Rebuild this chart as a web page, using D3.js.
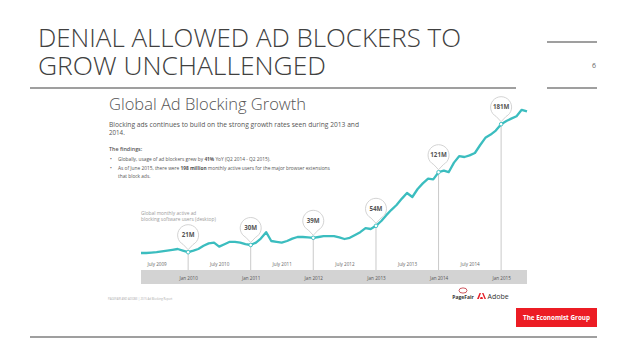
<!DOCTYPE html>
<html lang="en">
<head>
<meta charset="UTF-8">
<title>Denial allowed ad blockers to grow unchallenged</title>
<script src="https://d3js.org/d3.v7.min.js"></script>
<style>
  body { margin: 0; background: #fff; }
  svg { display: block; }
</style>
</head>
<body>
<div id="chart"></div>
<script>
    // Monthly active ad blocking users (millions), Apr 2009 .. Jun 2015
    const firstMonth = "2009-04";
    const users = [
        20, 20, 20.5, 21, 22, 23, 24, 25, 23,
        21, 23, 25, 29, 32, 33, 28, 31, 34, 34, 33, 31,
        30, 33, 38, 46, 35, 34, 33, 35, 38, 40, 40, 39.5,
        39, 40, 41, 41, 41, 39.5, 37.5, 39, 42.5, 46, 51, 50,
        54, 60, 67, 74, 80, 88, 95, 90, 100, 107, 113, 112,
        121, 123, 121, 133, 141, 140, 142, 145, 155, 164, 168, 173,
        181, 185, 188, 191, 199, 197
    ];

    // callouts
    const calloutDates = ["2010-01", "2011-01", "2012-01", "2013-01", "2014-01", "2015-01"];
    const calloutLabels = ["21M", "30M", "39M", "54M", "121M", "181M"];

    // axis ticks
    const janTicks = ["2010-01", "2011-01", "2012-01", "2013-01", "2014-01", "2015-01"];
    const julyTicks = ["2009-07", "2010-07", "2011-07", "2012-07", "2013-07", "2014-07"];

    const parseMonth = d3.timeParse("%Y-%m");
    const start = parseMonth(firstMonth);
    const series = users.map((v, i) => ({ date: d3.timeMonth.offset(start, i), value: v }));
    const end = series[series.length - 1].date;

    const width = 638, height = 359;
    const svg = d3.select("#chart").append("svg")
        .attr("width", width)
        .attr("height", height);

    const dark = "#404040";
    const teal = "#3bbdbf";

    // ---- slide title ----
    const title = svg.append("g")
        .style("font-family", "'Open Sans', sans-serif")
        .style("font-weight", 300)
        .attr("fill", dark);
    title.append("text").attr("x", 38).attr("y", 47)
        .attr("font-size", 26).attr("textLength", 423).attr("lengthAdjust", "spacingAndGlyphs")
        .text("DENIAL ALLOWED AD BLOCKERS TO");
    title.append("text").attr("x", 38).attr("y", 75)
        .attr("font-size", 26).attr("textLength", 288).attr("lengthAdjust", "spacingAndGlyphs")
        .text("GROW UNCHALLENGED");

    svg.append("line").attr("x1", 30).attr("x2", 516).attr("y1", 88).attr("y2", 88)
        .attr("stroke", dark).attr("stroke-width", 1.2);
    svg.append("line").attr("x1", 547).attr("x2", 597).attr("y1", 42).attr("y2", 42)
        .attr("stroke", dark).attr("stroke-width", 1.2);
    svg.append("line").attr("x1", 547).attr("x2", 597).attr("y1", 88).attr("y2", 88)
        .attr("stroke", dark).attr("stroke-width", 1.2);
    svg.append("text").attr("x", 596).attr("y", 68).attr("text-anchor", "end")
        .attr("font-size", 7).attr("fill", "#666")
        .style("font-family", "'Open Sans', sans-serif")
        .text("6");

    // bottom rule + Economist Group box
    svg.append("line").attr("x1", 30).attr("x2", 597).attr("y1", 337).attr("y2", 337)
        .attr("stroke", dark).attr("stroke-width", 1.2);
    svg.append("rect").attr("x", 516).attr("y", 308).attr("width", 81).attr("height", 19)
        .attr("fill", "#ec1c24");
    svg.append("text").attr("x", 556.5).attr("y", 320).attr("text-anchor", "middle")
        .attr("font-size", 6.3).attr("font-weight", "bold").attr("fill", "#fff")
        .style("font-family", "'Open Sans', sans-serif")
        .text("The Economist Group");

    // ---- embedded report page ----
    const page = svg.append("g").style("font-family", "'Open Sans', sans-serif");

    page.append("text").attr("x", 109).attr("y", 110)
        .attr("font-size", 16).attr("font-weight", 300).attr("fill", "#555")
        .attr("textLength", 197).attr("lengthAdjust", "spacingAndGlyphs")
        .text("Global Ad Blocking Growth");

    page.append("text").attr("x", 109).attr("y", 127)
        .attr("font-size", 6.2).attr("fill", "#555")
        .attr("textLength", 250).attr("lengthAdjust", "spacingAndGlyphs")
        .text("Blocking ads continues to build on the strong growth rates seen during 2013 and");
    page.append("text").attr("x", 109).attr("y", 135)
        .attr("font-size", 6.2).attr("fill", "#555")
        .text("2014.");

    page.append("text").attr("x", 109).attr("y", 151)
        .attr("font-size", 5.4).attr("font-weight", 600).attr("fill", "#555")
        .text("The findings:");

    const bullet1 = page.append("text").attr("y", 161).attr("font-size", 4.8).attr("fill", "#555");
    bullet1.append("tspan").attr("x", 110).text("•");
    bullet1.append("tspan").attr("x", 118).text("Globally, usage of ad blockers grew by ");
    bullet1.append("tspan").attr("font-weight", "bold").text("41%");
    bullet1.append("tspan").text(" YoY (Q2 2014 - Q2 2015).");

    const bullet2 = page.append("text").attr("y", 170).attr("font-size", 4.8).attr("fill", "#555");
    bullet2.append("tspan").attr("x", 110).text("•");
    bullet2.append("tspan").attr("x", 118).text("As of June 2015, there were ");
    bullet2.append("tspan").attr("font-weight", "bold").text("198 million");
    bullet2.append("tspan").text(" monthly active users for the major browser extensions");
    page.append("text").attr("x", 118).attr("y", 178).attr("font-size", 4.8).attr("fill", "#555")
        .text("that block ads.");

    // ---- chart ----
    const x = d3.scaleTime().domain([start, end]).range([141, 527]);
    const y = d3.scaleLinear().domain([0, 200]).range([269, 109]);

    page.append("text").attr("x", 141).attr("y", 215)
        .attr("font-size", 4.8).attr("fill", "#9a9a9a")
        .text("Global monthly active ad");
    page.append("text").attr("x", 141).attr("y", 221)
        .attr("font-size", 4.8).attr("fill", "#9a9a9a")
        .text("blocking software users (desktop)");

    // grey band behind Jan labels
    page.append("rect")
        .attr("x", x(start)).attr("width", x(end) - x(start))
        .attr("y", 270).attr("height", 14)
        .attr("fill", "#d3d3d3");

    const byMonth = new Map(series.map(d => [+d.date, d.value]));
    const callouts = calloutDates.map((s, i) => {
        const date = parseMonth(s);
        return { date: date, value: byMonth.get(+date), label: calloutLabels[i] };
    });

    // callout drop lines
    page.selectAll(".drop").data(callouts).join("line")
        .attr("class", "drop")
        .attr("x1", d => x(d.date)).attr("x2", d => x(d.date))
        .attr("y1", d => y(d.value)).attr("y2", 270)
        .attr("stroke", "#c4c4c4").attr("stroke-width", 0.9);

    // July labels (above band)
    const julyAxis = d3.axisBottom(x)
        .tickValues(julyTicks.map(parseMonth))
        .tickFormat(d3.timeFormat("July %Y"))
        .tickSize(0);
    page.append("g").attr("class", "july-axis")
        .attr("transform", "translate(0,260)")
        .call(julyAxis)
        .call(g => g.select(".domain").remove())
        .call(g => g.selectAll("text").attr("font-size", 4.6).attr("fill", "#666")
            .style("font-family", "'Open Sans', sans-serif"));

    // Jan labels (inside band)
    const janAxis = d3.axisBottom(x)
        .tickValues(janTicks.map(parseMonth))
        .tickFormat(d3.timeFormat("Jan %Y"))
        .tickSize(0);
    page.append("g").attr("class", "jan-axis")
        .attr("transform", "translate(0,274)")
        .call(janAxis)
        .call(g => g.select(".domain").remove())
        .call(g => g.selectAll("text").attr("font-size", 4.6).attr("fill", "#555")
            .style("font-family", "'Open Sans', sans-serif"));

    // the growth line
    const line = d3.line()
        .x(d => x(d.date))
        .y(d => y(d.value))
        .curve(d3.curveLinear);
    page.append("path").datum(series)
        .attr("d", line)
        .attr("fill", "none")
        .attr("stroke", teal)
        .attr("stroke-width", 2.3)
        .attr("stroke-linejoin", "round");

    // markers
    page.selectAll(".marker").data(callouts).join("circle")
        .attr("class", "marker")
        .attr("cx", d => x(d.date)).attr("cy", d => y(d.value))
        .attr("r", 1.8)
        .attr("fill", "#fff").attr("stroke", teal).attr("stroke-width", 0.9);

    // pin-shaped bubbles
    const r = 10.5, a = 28 * Math.PI / 180;
    function pin(cx, cy) {
        const tipY = cy + r + 4;
        const sx = r * Math.sin(a), sy = r * Math.cos(a);
        return `M${cx},${tipY} L${cx + sx},${cy + sy} A${r},${r} 0 1 0 ${cx - sx},${cy + sy} Z`;
    }
    const bubbles = page.selectAll(".bubble").data(callouts).join("g").attr("class", "bubble");
    bubbles.append("path")
        .attr("d", d => pin(x(d.date), y(d.value) - 17))
        .attr("fill", "#fff").attr("stroke", "#c8c8c8").attr("stroke-width", 0.8);
    bubbles.append("text")
        .attr("x", d => x(d.date)).attr("y", d => y(d.value) - 15)
        .attr("text-anchor", "middle")
        .attr("font-size", 6.2).attr("font-weight", "bold").attr("fill", "#555")
        .text(d => d.label);

    // source line and logos
    page.append("text").attr("x", 108).attr("y", 300)
        .attr("font-size", 2.8).attr("fill", "#aaa")
        .text("PAGEFAIR AND ADOBE  |  2015 Ad Blocking Report");

    page.append("ellipse").attr("cx", 463).attr("cy", 290.5).attr("rx", 4).attr("ry", 2.6)
        .attr("fill", "none").attr("stroke", "#c0303a").attr("stroke-width", 0.8);
    page.append("text").attr("x", 463).attr("y", 299).attr("text-anchor", "middle")
        .attr("font-size", 5).attr("font-weight", "bold").attr("fill", "#333")
        .text("PageFair");
    // small Adobe mark
    page.append("path")
        .attr("d", "M477,299 L479.5,293 L481,293 L478.8,299 Z M482,293 L483.5,293 L486,299 L484.5,299 Z M480.6,297 L482.4,297 L483,299 L480,299 Z")
        .attr("fill", "#e4222a");
    page.append("text").attr("x", 487.5).attr("y", 299)
        .attr("font-size", 7).attr("fill", "#333")
        .text("Adobe");
</script>
</body>
</html>
